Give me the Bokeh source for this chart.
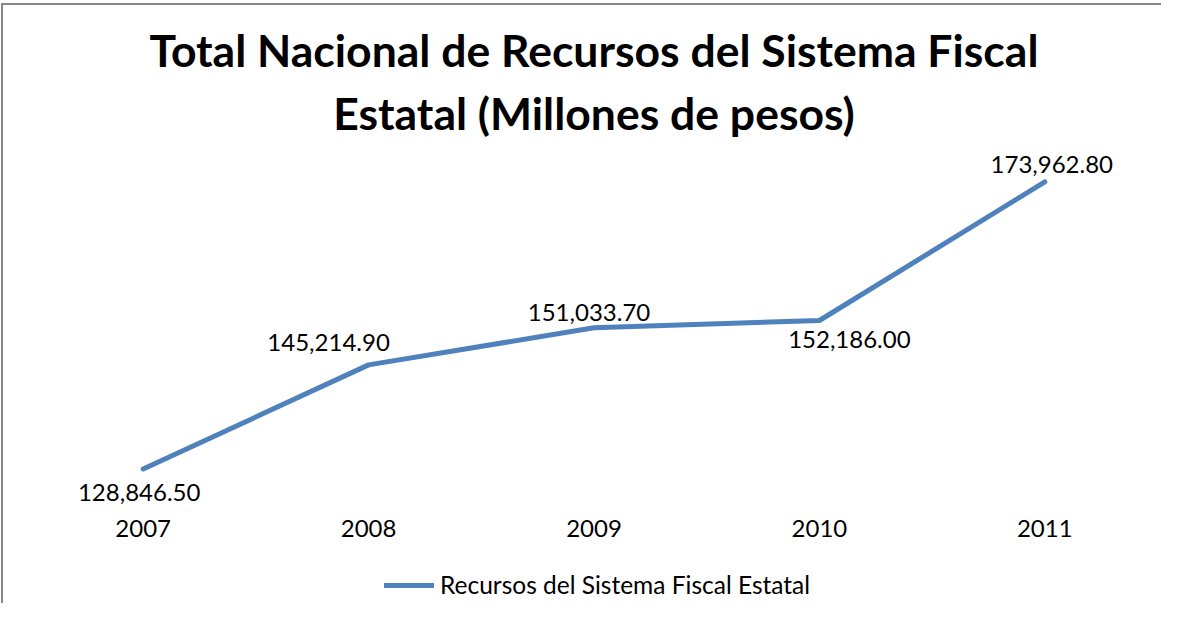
from bokeh.plotting import figure
from bokeh.models import (Range1d, FixedTicker, LabelSet, ColumnDataSource,
                          Legend, LegendItem, Title)
from bokeh.core.properties import value
from bokeh.embed import file_html
from bokeh.resources import INLINE

# ---- data ----
years = [2007, 2008, 2009, 2010, 2011]
values = [128846.5, 145214.9, 151033.7, 152186.0, 173962.8]
series_name = "Recursos del Sistema Fiscal Estatal"
title_line1 = "Total Nacional de Recursos del Sistema Fiscal"
title_line2 = "Estatal (Millones de pesos)"

# label placement offsets (screen px) relative to each point
label_dx = [-4, -40, -5, 30, 7]
label_dy = [-23, 22.5, 15.5, -19.5, 17]

FONT = "Lato"
LINE_COLOR = "#4F81BD"
W, H = 1160, 600
TOP = 138
Y_START, Y_END = 107400, 180000
AXIS_AT = 122000   # where the (hidden) category axis line sits

p = figure(width=W, height=H, output_backend="svg", toolbar_location=None,
           title=None, y_axis_location=None,
           x_range=Range1d(2006.5, 2011.5), y_range=Range1d(Y_START, Y_END),
           min_border_left=27, min_border_right=W - 27 - 1127,
           min_border_top=TOP, min_border_bottom=0,
           styles={"margin-left": "1px", "margin-top": "3px",
                   "border-left": "2px solid #868686",
                   "border-top": "2px solid #868686"})
p.outline_line_color = None
p.xgrid.visible = False
p.ygrid.visible = False
p.background_fill_color = "white"
p.border_fill_color = "white"

# titles (first added is closest to the plot)
p.add_layout(Title(text=title_line2, align="center", text_font=FONT,
                   text_font_size="44.5px", text_font_style="bold",
                   text_color="black", standoff=10), "above")
p.add_layout(Title(text=title_line1, align="center", text_font=FONT,
                   text_font_size="44.5px", text_font_style="bold",
                   text_color="black", standoff=5), "above")

r = p.line(years, values, line_width=5, line_color=LINE_COLOR,
           line_cap="round", line_join="round")

src = ColumnDataSource(dict(x=years, y=values,
                            text=[f"{v:,.2f}" for v in values],
                            dx=label_dx, dy=label_dy))
p.add_layout(LabelSet(x="x", y="y", text="text", x_offset="dx", y_offset="dy",
                      source=src, text_align="center", text_baseline="middle",
                      text_font=value(FONT), text_font_size="24px",
                      text_color="black"))

ax = p.xaxis[0]
ax.fixed_location = AXIS_AT
ax.ticker = FixedTicker(ticks=years)
ax.axis_line_color = None
ax.major_tick_line_color = None
ax.minor_tick_line_color = None
ax.major_tick_out = 0
ax.major_tick_in = 0
ax.major_label_standoff = 7
ax.major_label_text_font = FONT
ax.major_label_text_font_size = "24px"
ax.major_label_text_color = "black"

legend = Legend(items=[LegendItem(label=series_name, renderers=[r])],
                orientation="horizontal", location=(354, 6),
                border_line_color=None, background_fill_alpha=0,
                label_text_font=FONT, label_text_font_size="24.5px",
                label_text_color="black",
                glyph_width=50, glyph_height=20, label_standoff=6,
                padding=0, margin=0, spacing=0)
p.add_layout(legend, "center")

open("out.html", "w").write(file_html(p, INLINE))
